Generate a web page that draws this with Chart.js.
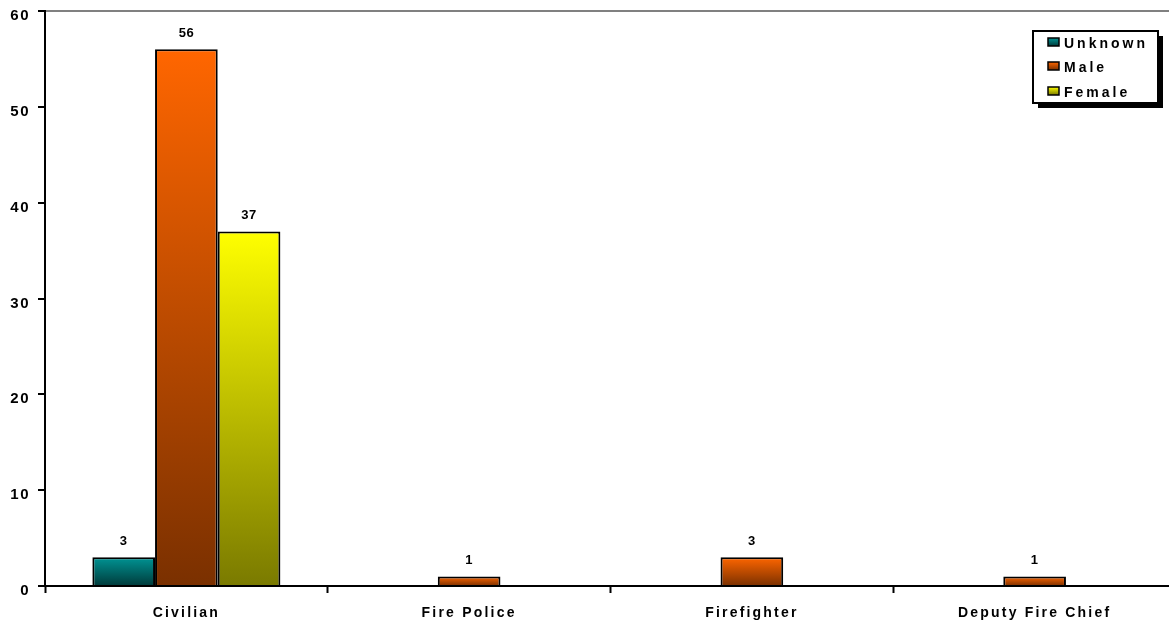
<!DOCTYPE html>
<html>
<head>
<meta charset="utf-8">
<script src="https://cdn.jsdelivr.net/npm/chart.js@4.4.0/dist/chart.umd.min.js"></script>
<style>
html,body{margin:0;padding:0;background:#fff;overflow:hidden;}
#wrap{width:1169px;height:626px;overflow:hidden;position:relative;}
#c{position:absolute;left:0;top:0;}
</style>
</head>
<body>
<div id="wrap"><canvas id="c" width="1182" height="626"></canvas></div>
<script>
const categories = ['Civilian', 'Fire Police', 'Firefighter', 'Deputy Fire Chief'];
const unknownValues = [3, 0, 0, 0];
const maleValues = [56, 1, 3, 1];
const femaleValues = [37, 0, 0, 0];
const yTicks = [0, 10, 20, 30, 40, 50, 60];

const palettes = {
  Unknown: ['#009494', '#003a3a'],
  Male: ['#ff6600', '#7a3000'],
  Female: ['#ffff00', '#7a7a00']
};

function barGradient(ctx) {
  const chart = ctx.chart;
  const ds = chart.data.datasets[ctx.datasetIndex];
  const pal = palettes[ds.label];
  if (ctx.type !== 'data' || !chart.scales.y) return pal[0];
  const v = ctx.raw;
  const y = chart.scales.y;
  const top = y.getPixelForValue(v);
  const bot = y.getPixelForValue(0);
  if (!isFinite(top) || !isFinite(bot) || top === bot) return pal[0];
  const g = chart.ctx.createLinearGradient(0, top, 0, bot);
  g.addColorStop(0, pal[0]);
  g.addColorStop(1, pal[1]);
  return g;
}

const FONT = '"Liberation Sans", Arial, sans-serif';

const spacingPlugin = {
  id: 'spacing',
  beforeDraw(chart) {
    chart.ctx.letterSpacing = '2.2px';
    const y = chart.scales.y;
    if (y && !y._lsPatched) {
      const orig = y.drawLabels.bind(y);
      y.drawLabels = function (ca) {
        const c = this.ctx;
        const prev = c.letterSpacing;
        c.letterSpacing = '1.5px';
        orig(ca);
        c.letterSpacing = prev;
      };
      y._lsPatched = true;
    }
  }
};

const labelPlugin = {
  id: 'valueLabels',
  afterDatasetsDraw(chart) {
    const ctx = chart.ctx;
    ctx.save();
    ctx.letterSpacing = '0.5px';
    ctx.font = 'bold 13px ' + FONT;
    ctx.fillStyle = '#000';
    ctx.textAlign = 'center';
    ctx.textBaseline = 'bottom';
    chart.data.datasets.forEach((ds, i) => {
      const meta = chart.getDatasetMeta(i);
      meta.data.forEach((el, j) => {
        const v = ds.data[j];
        if (!v) return;
        ctx.fillText(String(v), el.x, el.y - 9);
      });
    });
    ctx.restore();
  }
};

const legendPlugin = {
  id: 'boxLegend',
  afterDraw(chart) {
    const ctx = chart.ctx;
    const x = 1033, y = 31, w = 125, h = 72;
    ctx.save();
    ctx.fillStyle = '#000';
    ctx.fillRect(x + 5, y + 5, w, h);
    ctx.fillStyle = '#fff';
    ctx.fillRect(x, y, w, h);
    ctx.strokeStyle = '#000';
    ctx.lineWidth = 2;
    ctx.strokeRect(x, y, w, h);
    ctx.font = 'bold 14px ' + FONT;
    ctx.letterSpacing = '3px';
    ctx.textBaseline = 'middle';
    ctx.textAlign = 'left';
    const rows = [43, 67, 92];
    chart.data.datasets.forEach((ds, i) => {
      const pal = palettes[ds.label];
      const ry = rows[i];
      const g = ctx.createLinearGradient(0, ry - 5, 0, ry + 3);
      g.addColorStop(0, pal[0]);
      g.addColorStop(1, pal[1]);
      ctx.fillStyle = g;
      ctx.fillRect(x + 15, ry - 5, 11, 8);
      ctx.lineWidth = 1.5;
      ctx.strokeRect(x + 15, ry - 5, 11, 8);
      ctx.fillStyle = '#000';
      ctx.fillText(ds.label, x + 31, ry + 1);
    });
    ctx.restore();
  }
};

new Chart(document.getElementById('c'), {
  type: 'bar',
  data: {
    labels: categories,
    datasets: [
      { label: 'Unknown', data: unknownValues },
      { label: 'Male', data: maleValues },
      { label: 'Female', data: femaleValues }
    ].map(d => Object.assign(d, {
      backgroundColor: barGradient,
      borderColor: '#000',
      borderWidth: 2,
      borderSkipped: 'bottom',
      categoryPercentage: 0.665,
      barPercentage: 1.0
    }))
  },
  options: {
    responsive: false,
    animation: false,
    devicePixelRatio: 1,
    layout: { padding: { top: 11, right: 6, left: 0, bottom: 0 } },
    plugins: {
      legend: { display: false },
      tooltip: { enabled: false }
    },
    scales: {
      x: {
        offset: true,
        grid: {
          offset: true,
          drawOnChartArea: false,
          drawTicks: true,
          tickLength: 7,
          tickColor: '#000',
          tickWidth: 2
        },
        border: { color: '#000', width: 2 },
        ticks: {
          color: '#000',
          font: { family: FONT, size: 14, weight: 'bold' },
          padding: 12
        },
        afterFit(s) { s.height = 40; s.paddingLeft = 0; s.paddingRight = 0; }
      },
      y: {
        min: 0,
        max: 60,
        afterBuildTicks(s) { s.ticks = yTicks.map(v => ({ value: v })); },
        grid: {
          color: c => (c.tick && c.tick.value === 60) ? '#808080' : 'rgba(0,0,0,0)',
          lineWidth: 2,
          tickColor: '#000',
          tickLength: 7,
          tickWidth: 2
        },
        border: { color: '#000', width: 2 },
        ticks: {
          color: '#000',
          font: { family: FONT, size: 15, weight: 'bold' },
          padding: 8,
          labelOffset: 5
        },
        afterFit(s) { s.width = 45; s.paddingTop = 0; s.paddingBottom = 0; }
      }
    }
  },
  plugins: [spacingPlugin, labelPlugin, legendPlugin]
});
</script>
</body>
</html>
